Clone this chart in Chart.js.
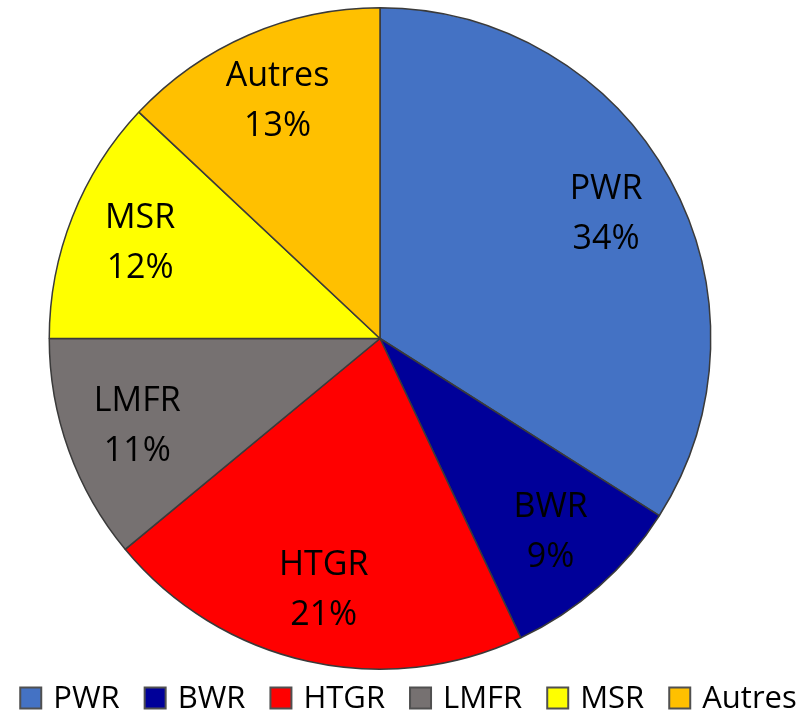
<!DOCTYPE html>
<html>
<head>
<meta charset="utf-8">
<script src="https://cdn.jsdelivr.net/npm/chart.js@4/dist/chart.umd.min.js"></script>
<style>
  html, body { margin: 0; padding: 0; background: #fff; }
  #wrap { width: 807px; height: 713px; position: relative; }
</style>
</head>
<body>
<div id="wrap"><canvas id="c" width="807" height="713"></canvas></div>
<script>
const categories = ['PWR', 'BWR', 'HTGR', 'LMFR', 'MSR', 'Autres'];
const shares = [34, 9, 21, 11, 12, 13];
const colors = ['#4472C4', '#000099', '#FF0000', '#767171', '#FFFF00', '#FFC000'];

const FONT = '"Open Sans", "DejaVu Sans", sans-serif';

const sliceLabels = {
  id: 'sliceLabels',
  afterDatasetsDraw(chart) {
    const ctx = chart.ctx;
    const meta = chart.getDatasetMeta(0);
    ctx.save();
    ctx.font = '34px ' + FONT;
    ctx.fillStyle = '#000';
    ctx.textAlign = 'center';
    ctx.textBaseline = 'middle';
    meta.data.forEach((arc, i) => {
      const p = arc.getProps(['x', 'y', 'startAngle', 'endAngle', 'outerRadius'], true);
      const mid = (p.startAngle + p.endAngle) / 2;
      const r = p.outerRadius * 0.78;
      const x = p.x + Math.cos(mid) * r;
      const y = p.y + Math.sin(mid) * r;
      ctx.fillText(chart.data.labels[i], x, y - 25);
      ctx.fillText(chart.data.datasets[0].data[i] + '%', x, y + 25);
    });
    ctx.restore();
  }
};

const bottomLegend = {
  id: 'bottomLegend',
  afterDraw(chart) {
    const ctx = chart.ctx;
    ctx.save();
    ctx.font = '31px ' + FONT;
    const box = 21, gapText = 12, gapItem = 25;
    const labels = chart.data.labels;
    const widths = labels.map(l => ctx.measureText(l).width);
    let total = 0;
    widths.forEach((w, i) => { total += box + gapText + w + (i < widths.length - 1 ? gapItem : 0); });
    let x = 408.5 - total / 2;
    const cy = 698;
    ctx.textBaseline = 'middle';
    ctx.textAlign = 'left';
    labels.forEach((l, i) => {
      ctx.fillStyle = chart.data.datasets[0].backgroundColor[i];
      ctx.fillRect(x, cy - box / 2, box, box);
      ctx.strokeStyle = '#505050';
      ctx.lineWidth = 2;
      ctx.strokeRect(x, cy - box / 2, box, box);
      ctx.fillStyle = '#000';
      ctx.fillText(l, x + box + gapText, cy + 1);
      x += box + gapText + widths[i] + gapItem;
    });
    ctx.restore();
  }
};

new Chart(document.getElementById('c'), {
  type: 'pie',
  data: {
    labels: categories,
    datasets: [{
      data: shares,
      backgroundColor: colors,
      borderColor: '#3a3a3a',
      borderWidth: 1.5
    }]
  },
  options: {
    responsive: false,
    animation: false,
    layout: { padding: { top: 7, bottom: 43, left: 0, right: 47 } },
    plugins: {
      legend: { display: false },
      tooltip: { enabled: false }
    }
  },
  plugins: [sliceLabels, bottomLegend]
});
</script>
</body>
</html>
